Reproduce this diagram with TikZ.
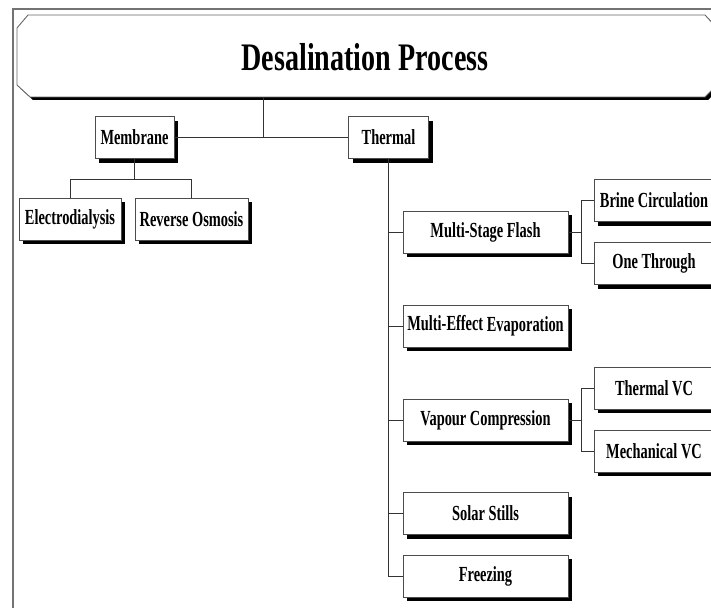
\documentclass[tikz,border=0pt]{standalone}
\usepackage{fontspec}
\setmainfont[FakeStretch=0.72]{Liberation Serif}
\newfontfamily\boxfont[FakeStretch=0.67]{Liberation Serif}
\tikzset{
  box/.style={draw=black!70, line width=0.9pt, fill=white, minimum height=42pt, inner sep=0pt,
    font=\boxfont\bfseries\fontsize{21.5}{23}\selectfont,
    preaction={draw=none, fill=black, transform canvas={shift={(4pt,-4pt)}}}},
  link/.style={draw=black!80, line width=0.9pt},
}
\begin{document}
\begin{tikzpicture}[x=1pt,y=-1pt]
\useasboundingbox (0,0) rectangle (711,607);
\clip (0,0) rectangle (711,607);
% outer frame
\draw[black!55, line width=1.6pt] (13,620) -- (13,9) -- (730,9);
% title box
\fill[black] (20,31) -- (31,18) -- (708,18) -- (720,31) -- (720,88) -- (708,100) -- (33,100) -- (20,88) -- cycle;
\draw[black!60, line width=0.9pt, fill=white] (17,28) -- (28,15) -- (705,15) -- (717,28) -- (717,85) -- (705,97) -- (30,97) -- (17,85) -- cycle;
\node (title) at (365,57) {\bfseries\fontsize{39}{42}\selectfont Desalination Process};
\coordinate (tbot) at (263,97);
\coordinate (tj) at (263,137.5);

\node[box, minimum width=79pt] (mem) at (134.5,137.5) {Membrane};
\node[box, minimum width=80pt] (th) at (388.5,137.5) {Thermal};
\node[box, minimum width=102pt] (ed) at (70,219) {Electrodialysis};
\node[box, minimum width=113pt] (ro) at (191.5,219) {Reverse Osmosis};

\node[box, minimum width=165pt] (msf) at (485.5,232) {Multi-Stage Flash};
\node[box, minimum width=165pt] (mee) at (485.5,326) {Multi-Effect \raisebox{-1.2pt}{Evaporation}};
\node[box, minimum width=165pt] (vc) at (485.5,420) {Vapour Compression};
\node[box, minimum width=165pt] (ss) at (485.5,513.5) {Solar Stills};
\node[box, minimum width=165pt] (fr) at (485.5,576) {Freezing};

\node[box, minimum width=120pt] (bc) at (654,200.5) {Brine Circulation};
\node[box, minimum width=120pt] (ot) at (654,263.5) {One Through};
\node[box, minimum width=120pt] (tvc) at (654,388) {Thermal VC};
\node[box, minimum width=120pt] (mvc) at (654,451) {Mechanical VC};

% connectors
\draw[link] (tbot) -- (tj);
\draw[link] (mem.east) -- (th.west);
\draw[link] (mem.south) -- ++(0,20) coordinate (mj);
\draw[link] (ed.north) |- (mj) -| (ro.north);

\draw[link] (th.south) |- (fr.west);
\draw[link] (th.south) |- (msf.west);
\draw[link] (th.south) |- (mee.west);
\draw[link] (th.south) |- (vc.west);
\draw[link] (th.south) |- (ss.west);

\draw[link] (msf.east) -- ++(13,0) coordinate (mj2);
\draw[link] (bc.west) -| (mj2) |- (ot.west);
\draw[link] (vc.east) -- ++(13,0) coordinate (vj);
\draw[link] (tvc.west) -| (vj) |- (mvc.west);
\end{tikzpicture}
\end{document}
